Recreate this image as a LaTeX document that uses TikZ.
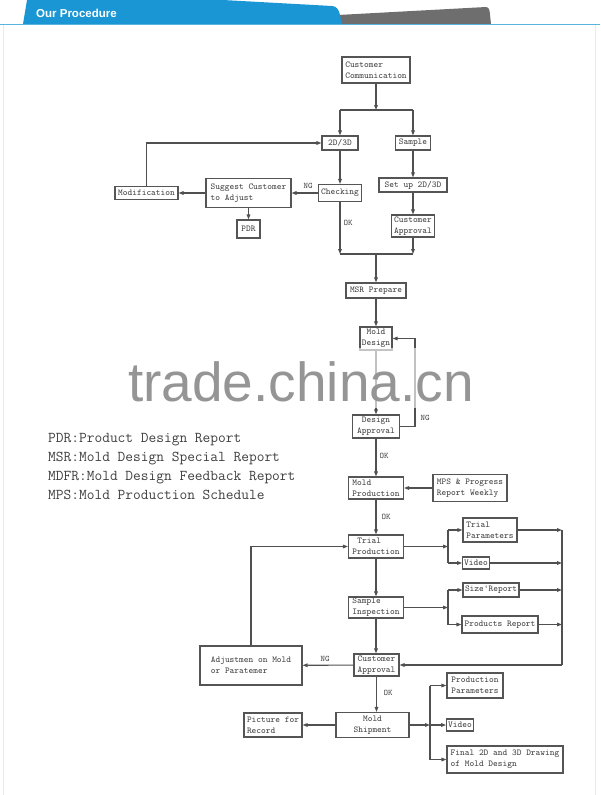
\documentclass[tikz,border=0pt]{standalone}
\usepackage{fontspec}
\newfontfamily\hdrfont{Liberation Sans}
\usetikzlibrary{arrows.meta}
\definecolor{hblue}{HTML}{1A96D4}
\definecolor{hgray}{HTML}{6E6E6E}
\definecolor{hline}{HTML}{5AB4E0}
\definecolor{linec}{HTML}{505050}
\definecolor{boxc}{HTML}{555555}
\definecolor{txtc}{HTML}{404040}
\definecolor{wmark}{HTML}{959595}
\begin{document}
\begin{tikzpicture}[x=1pt,y=-1pt,
  box/.style={draw=boxc, line width=1.1pt, inner xsep=1.5pt, inner ysep=1pt,
    font=\ttfamily\fontsize{9}{11}\selectfont, text=txtc, align=left},
  sz/.style 2 args={minimum width=#1, minimum height=#2},
  ln/.style={draw=linec, line width=1.1pt},
  arr/.style={ln, -{Triangle[length=5pt,width=3.6pt]}},
  lbl/.style={font=\ttfamily\fontsize{8.5}{10}\selectfont, text=txtc, inner sep=0pt},
  legend/.style={anchor=base west, inner sep=0pt, font=\ttfamily\fontsize{15}{19}\selectfont, text=txtc}]
\useasboundingbox (0,0) rectangle (600,795);
\fill[white] (0,0) rectangle (600,795);
% frame
\draw[black!8, line width=0.8pt] (3,25) -- (3,795);
\draw[black!8, line width=0.8pt] (595,25) -- (595,795);
% header
\fill[hgray] (336,24) -- (338,15) -- (486,7) to[out=0,in=95] (490,15) -- (491,24) -- cycle;
\fill[hblue] (23,24) -- (27,0) -- (223,0) -- (332,6) to[out=0,in=100] (340,15) -- (342,24) -- cycle;
\fill[hline] (0,23.8) rectangle (600,25.2);
\node[anchor=base west, inner sep=0pt, text=white, font=\hdrfont\bfseries\fontsize{11.5}{13}\selectfont] (title) at (36,17.5) {Our Procedure};

% boxes
\node[box, sz={68}{26}] (cc) at (376,70) {Customer\\Communication};
\node[box, sz={36}{14}, align=center] (d23) at (340,143) {2D/3D};
\node[box, sz={35}{14}, align=center] (smp) at (413,143) {Sample};
\node[box, sz={43}{17}, align=center] (chk) at (340,193) {Checking};
\node[box, sz={68}{14}, align=center] (setup) at (413,185) {Set up 2D/3D};
\node[box, sz={43}{22}, align=center] (ca1) at (413,226) {Customer\\Approval};
\node[box, sz={85}{29}] (sug) at (248.5,193) {Suggest Customer\\to Adjust};
\node[box, sz={63}{13}, align=center] (mod) at (146.5,193) {Modification};
\node[box, sz={23}{18}, align=center] (pdr) at (248.5,229) {PDR};
\node[box, sz={60}{15}, align=center] (msr) at (376,290.5) {MSR Prepare};
\node[box, sz={32}{23}, align=center] (md) at (376,338.5) {Mold\\Design};
\node[box, sz={47}{23}, align=center] (da) at (376,426.5) {Design\\Approval};
\node[box, sz={55}{22}] (mp) at (376,488) {Mold\\Production};
\node[box, sz={74}{27}] (mps) at (470,488) {MPS \& Progress\\Report Weekly};
\node[box, sz={55}{23}] (tp) at (376,546.5) {\hspace*{5pt}Trial\\Production};
\node[box, sz={54}{24}] (tpar) at (490,530) {Trial\\Parameters};
\node[box, sz={26}{12}, align=center] (vid1) at (476,563) {Video};
\node[box, sz={56}{14}, align=center] (size) at (491,590) {Size'Report};
\node[box, sz={76}{17}, align=center] (prep) at (500,624.5) {Products Report};
\node[box, sz={55}{21}] (si) at (376,607.5) {Sample\\Inspection};
\node[box, sz={45}{22}] (ca2) at (376.5,665) {Customer\\Approval};
\node[box, sz={102}{39}] (adj) at (251,665.5) {Adjustmen on Mold\\or Paratemer};
\node[box, sz={73}{25}, align=center] (ms) at (372.5,725) {Mold\\Shipment};
\node[box, sz={58}{24}] (pic) at (273,725) {Picture for\\Record};
\node[box, sz={56}{25}] (ppar) at (475,685.5) {Production\\Parameters};
\node[box, sz={26}{12}, align=center] (vid2) at (460,725) {Video};
\node[box, sz={116}{27}] (fin) at (505,759.5) {Final 2D and 3D Drawing\\of Mold Design};

% coordinates
\coordinate (j1) at (376,110);
\coordinate (j2) at (376,254);
\coordinate (j3) at (448,546.5);
\coordinate (j4) at (448,607.5);
\coordinate (j5) at (562,665);
\coordinate (j6) at (430,725);
\coordinate (jn) at (415,426.5);

% connectors top
\draw[arr] (cc) -- (j1);
\draw[ln] (d23 |- j1) -- (smp |- j1);
\draw[arr] (d23 |- j1) -- (d23);
\draw[arr] (smp |- j1) -- (smp);
\draw[arr] (d23) -- (chk);
\draw[arr] (smp) -- (setup);
\draw[arr] (setup) -- (ca1);
\draw[arr] (chk) -- (sug);
\draw[arr] (sug) -- (mod);
\draw[arr] (sug) -- (pdr);
\draw[arr] (mod.north) |- (d23.west);
\draw[arr] (chk) -- (chk |- j2);
\draw[arr] (ca1) -- (ca1 |- j2);
\draw[ln] (chk |- j2) -- (ca1 |- j2);
\draw[arr] (j2) -- (msr);
\draw[arr] (msr) -- (md);
\draw[arr] (md) -- (da);
\draw[ln] (da.east) -- (jn);
\draw[arr] (jn) |- (md.east);
\draw[arr] (da) -- (mp);
\draw[arr] (mps) -- (mp);
\draw[arr] (mp) -- (tp);
% trial split
\draw[arr] (tp) -- (j3);
\draw[ln] (j3 |- tpar) -- (j3 |- vid1);
\draw[arr] (j3 |- tpar) -- (tpar);
\draw[arr] (j3 |- vid1) -- (vid1);
\draw[arr] (tp) -- (si);
% sample split
\draw[arr] (si) -- (j4);
\draw[ln] (j4 |- size) -- (j4 |- prep);
\draw[arr] (j4 |- size) -- (size);
\draw[arr] (j4 |- prep) -- (prep);
% collector
\draw[arr] (tpar) -- (tpar -| j5);
\draw[arr] (vid1) -- (vid1 -| j5);
\draw[arr] (size) -- (size -| j5);
\draw[arr] (prep) -- (prep -| j5);
\draw[ln] (tpar -| j5) -- (j5);
\draw[arr] (j5) -- (ca2);
\draw[arr] (si) -- (si |- ca2.north);
\draw[arr] (ca2) -- (adj);
\draw[arr] (adj.north) |- (tp.west);
\draw[arr] (ca2) -- (ca2 |- ms.north);
\draw[arr] (ms) -- (pic);
% shipment split
\draw[arr] (ms) -- (j6);
\draw[ln] (j6 |- ppar) -- (j6 |- fin);
\draw[arr] (j6 |- ppar) -- (ppar);
\draw[arr] (j6) -- (vid2);
\draw[arr] (j6 |- fin) -- (fin);

% labels
\node[lbl] (ng1) at (308,186) {NG};
\node[lbl] (ok1) at (348,223) {OK};
\node[lbl] (ng2) at (425,418) {NG};
\node[lbl] (ok2) at (384,456) {OK};
\node[lbl] (ok3) at (386,517) {OK};
\node[lbl] (ng3) at (325,659) {NG};
\node[lbl] (ok4) at (388,693) {OK};

% legend
\node[legend] (leg1) at (48,442) {PDR:Product Design Report};
\node[legend] (leg2) at (48,461) {MSR:Mold Design Special Report};
\node[legend] (leg3) at (48,480) {MDFR:Mold Design Feedback Report};
\node[legend] (leg4) at (48,499) {MPS:Mold Production Schedule};

% watermark
\fill[white, fill opacity=0.65] (355,348) rectangle (425,408);
\node[anchor=base west, inner sep=0pt, text depth=0pt, text=wmark, font=\hdrfont\fontsize{55}{60}\selectfont] (wm) at (128,401) {trade.china.cn};
\end{tikzpicture}
\end{document}
